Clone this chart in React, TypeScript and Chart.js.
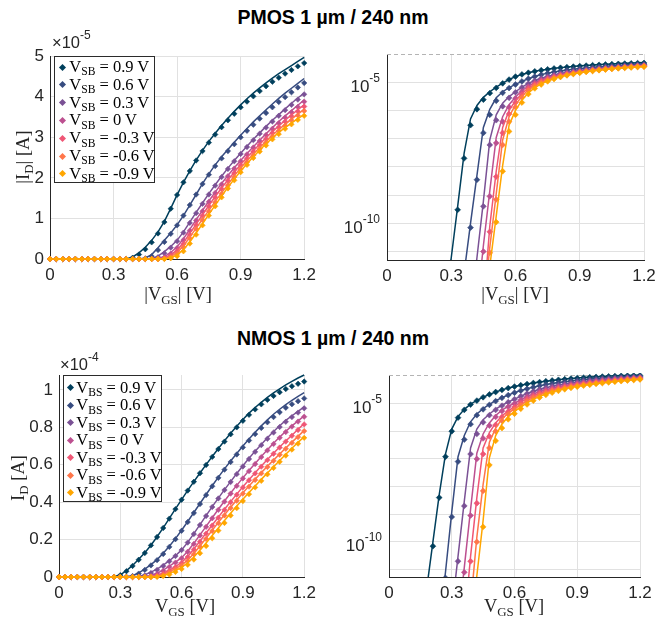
import React, { useEffect, useRef } from 'react';
import { Chart, registerables } from 'chart.js';

Chart.register(...registerables);

// ---------- data ----------
const VGS = [
  0, 0.03, 0.06, 0.09, 0.12, 0.15, 0.18, 0.21, 0.24, 0.27,
  0.3, 0.33, 0.36, 0.39, 0.42, 0.45, 0.48, 0.51, 0.54, 0.57,
  0.6, 0.63, 0.66, 0.69, 0.72, 0.75, 0.78, 0.81, 0.84, 0.87,
  0.9, 0.93, 0.96, 0.99, 1.02, 1.05, 1.08, 1.11, 1.14, 1.17, 1.2,
];

const BIAS_LABELS = ['0.9', '0.6', '0.3', '0', '-0.3', '-0.6', '-0.9'];
const COLORS = ['#003f5c', '#374c80', '#7a5195', '#bc5090', '#ef5675', '#ff764a', '#ffa600'];

const X_TICKS = [0, 0.3, 0.6, 0.9, 1.2];
const X_TICK_LABELS = ['0', '0.3', '0.6', '0.9', '1.2'];
const P_Y_TICKS = [0, 1e-5, 2e-5, 3e-5, 4e-5, 5e-5];
const P_Y_TICK_LABELS = ['0', '1', '2', '3', '4', '5'];
const N_Y_TICKS = [0, 2e-5, 4e-5, 6e-5, 8e-5, 1e-4];
const N_Y_TICK_LABELS = ['0', '0.2', '0.4', '0.6', '0.8', '1'];
const LOG_GRID = [1e-11, 1e-10, 1e-9, 1e-8, 1e-7, 1e-6, 1e-5, 1e-4];
const LOG_LABEL_VALUES = [1e-10, 1e-5];
const LOG_LABEL_EXPS = ['-10', '-5'];

const P_LIN_MAX = 5e-5;
const N_LIN_MAX = 1.08e-4;
const P_LOG_MIN = 5e-12;
const P_LOG_MAX = 1e-4;
const N_LOG_MIN = 5.4e-12;
const N_LOG_MAX = 1.08e-4;

// PMOS |ID| [A] : model lines (FIT) and measurements (MEAS)
const P_FIT_SB09 = [
  1e-13, 1e-13, 1e-13, 1e-13, 1e-13, 1e-13, 1e-13, 1e-13, 1e-13, 2e-13,
  6e-12, 4e-10, 3e-8, 5e-7, 1.5e-6, 2.9e-6, 4.6e-6, 6.7e-6, 9.3e-6, 1.25e-5,
  1.58e-5, 1.89e-5, 2.17e-5, 2.44e-5, 2.68e-5, 2.9e-5, 3.1e-5, 3.29e-5, 3.47e-5, 3.64e-5,
  3.8e-5, 3.95e-5, 4.09e-5, 4.22e-5, 4.34e-5, 4.46e-5, 4.57e-5, 4.67e-5, 4.77e-5, 4.87e-5, 4.97e-5,
];
const P_MEAS_SB09 = [
  1e-13, 1e-13, 1e-13, 1e-13, 1e-13, 1e-13, 1e-13, 1e-13, 1e-13, 1.5e-13,
  4e-12, 3e-10, 2e-8, 3e-7, 1.1e-6, 2.4e-6, 4.1e-6, 6.3e-6, 9.1e-6, 1.24e-5,
  1.58e-5, 1.89e-5, 2.17e-5, 2.43e-5, 2.66e-5, 2.87e-5, 3.07e-5, 3.25e-5, 3.42e-5, 3.58e-5,
  3.74e-5, 3.88e-5, 4.01e-5, 4.14e-5, 4.26e-5, 4.37e-5, 4.47e-5, 4.57e-5, 4.66e-5, 4.75e-5, 4.83e-5,
];
const P_FIT_SB06 = [
  1e-13, 1e-13, 1e-13, 1e-13, 1e-13, 1e-13, 1e-13, 1e-13, 1e-13, 1e-13,
  1e-13, 1e-13, 1.7e-12, 1e-10, 5e-9, 2.5e-7, 1.1e-6, 2.8e-6, 4.6e-6, 6.4e-6,
  8.4e-6, 1.07e-5, 1.33e-5, 1.59e-5, 1.86e-5, 2.1e-5, 2.32e-5, 2.52e-5, 2.7e-5, 2.88e-5,
  3.05e-5, 3.22e-5, 3.38e-5, 3.53e-5, 3.68e-5, 3.82e-5, 3.96e-5, 4.09e-5, 4.21e-5, 4.33e-5, 4.45e-5,
];
const P_MEAS_SB06 = [
  1e-13, 1e-13, 1e-13, 1e-13, 1e-13, 1e-13, 1e-13, 1e-13, 1e-13, 1e-13,
  1e-13, 1e-13, 1.2e-12, 7e-11, 3.5e-9, 1.6e-7, 7e-7, 2.2e-6, 4.2e-6, 6.2e-6,
  8.3e-6, 1.07e-5, 1.33e-5, 1.59e-5, 1.85e-5, 2.08e-5, 2.29e-5, 2.48e-5, 2.66e-5, 2.83e-5,
  3.0e-5, 3.16e-5, 3.31e-5, 3.46e-5, 3.6e-5, 3.74e-5, 3.87e-5, 3.99e-5, 4.11e-5, 4.23e-5, 4.34e-5,
];
const P_FIT_SB03 = [
  1e-13, 1e-13, 1e-13, 1e-13, 1e-13, 1e-13, 1e-13, 1e-13, 1e-13, 1e-13,
  1e-13, 1e-13, 1e-13, 1e-13, 6e-12, 6e-10, 9e-8, 7e-7, 1.8e-6, 3.1e-6,
  4.6e-6, 6.7e-6, 9.1e-6, 1.15e-5, 1.38e-5, 1.61e-5, 1.83e-5, 2.04e-5, 2.24e-5, 2.43e-5,
  2.61e-5, 2.78e-5, 2.95e-5, 3.11e-5, 3.27e-5, 3.42e-5, 3.56e-5, 3.7e-5, 3.84e-5, 3.97e-5, 4.09e-5,
];
const P_MEAS_SB03 = [
  1e-13, 1e-13, 1e-13, 1e-13, 1e-13, 1e-13, 1e-13, 1e-13, 1e-13, 1e-13,
  1e-13, 1e-13, 1e-13, 1e-13, 4e-12, 4e-10, 6e-8, 4.5e-7, 1.4e-6, 2.8e-6,
  4.4e-6, 6.5e-6, 8.9e-6, 1.13e-5, 1.36e-5, 1.59e-5, 1.81e-5, 2.02e-5, 2.22e-5, 2.41e-5,
  2.59e-5, 2.76e-5, 2.93e-5, 3.09e-5, 3.24e-5, 3.39e-5, 3.53e-5, 3.67e-5, 3.8e-5, 3.93e-5, 4.06e-5,
];
const P_FIT_SB0 = [
  1e-13, 1e-13, 1e-13, 1e-13, 1e-13, 1e-13, 1e-13, 1e-13, 1e-13, 1e-13,
  1e-13, 1e-13, 1e-13, 1e-13, 1e-13, 1.6e-11, 1.4e-9, 1.1e-7, 6e-7, 1.6e-6,
  3.0e-6, 5.0e-6, 7.3e-6, 9.7e-6, 1.2e-5, 1.43e-5, 1.65e-5, 1.86e-5, 2.06e-5, 2.25e-5,
  2.43e-5, 2.6e-5, 2.77e-5, 2.93e-5, 3.09e-5, 3.24e-5, 3.39e-5, 3.53e-5, 3.66e-5, 3.79e-5, 3.92e-5,
];
const P_MEAS_SB0 = [
  1e-13, 1e-13, 1e-13, 1e-13, 1e-13, 1e-13, 1e-13, 1e-13, 1e-13, 1e-13,
  1e-13, 1e-13, 1e-13, 1e-13, 1e-13, 1e-11, 9e-10, 7e-8, 4e-7, 1.3e-6,
  2.7e-6, 4.7e-6, 7.0e-6, 9.5e-6, 1.18e-5, 1.41e-5, 1.63e-5, 1.84e-5, 2.04e-5, 2.23e-5,
  2.41e-5, 2.58e-5, 2.75e-5, 2.91e-5, 3.06e-5, 3.21e-5, 3.35e-5, 3.49e-5, 3.62e-5, 3.75e-5, 3.88e-5,
];
const P_FIT_SBM03 = [
  1e-13, 1e-13, 1e-13, 1e-13, 1e-13, 1e-13, 1e-13, 1e-13, 1e-13, 1e-13,
  1e-13, 1e-13, 1e-13, 1e-13, 1e-13, 1e-13, 8e-11, 7e-9, 2.5e-7, 1.0e-6,
  2.2e-6, 4.0e-6, 6.3e-6, 8.6e-6, 1.09e-5, 1.32e-5, 1.54e-5, 1.75e-5, 1.95e-5, 2.14e-5,
  2.33e-5, 2.5e-5, 2.67e-5, 2.83e-5, 2.99e-5, 3.14e-5, 3.28e-5, 3.42e-5, 3.55e-5, 3.68e-5, 3.8e-5,
];
const P_MEAS_SBM03 = [
  1e-13, 1e-13, 1e-13, 1e-13, 1e-13, 1e-13, 1e-13, 1e-13, 1e-13, 1e-13,
  1e-13, 1e-13, 1e-13, 1e-13, 1e-13, 1e-13, 5e-11, 4.5e-9, 1.6e-7, 7.5e-7,
  1.9e-6, 3.7e-6, 6.0e-6, 8.4e-6, 1.07e-5, 1.3e-5, 1.52e-5, 1.73e-5, 1.93e-5, 2.12e-5,
  2.31e-5, 2.48e-5, 2.65e-5, 2.81e-5, 2.96e-5, 3.11e-5, 3.25e-5, 3.39e-5, 3.52e-5, 3.64e-5, 3.76e-5,
];
const P_FIT_SBM06 = [
  1e-13, 1e-13, 1e-13, 1e-13, 1e-13, 1e-13, 1e-13, 1e-13, 1e-13, 1e-13,
  1e-13, 1e-13, 1e-13, 1e-13, 1e-13, 1e-13, 1.4e-11, 1.1e-9, 9e-8, 6e-7,
  1.6e-6, 3.2e-6, 5.4e-6, 7.6e-6, 9.8e-6, 1.2e-5, 1.42e-5, 1.63e-5, 1.84e-5, 2.05e-5,
  2.25e-5, 2.42e-5, 2.59e-5, 2.75e-5, 2.9e-5, 3.05e-5, 3.19e-5, 3.32e-5, 3.45e-5, 3.57e-5, 3.69e-5,
];
const P_MEAS_SBM06 = [
  1e-13, 1e-13, 1e-13, 1e-13, 1e-13, 1e-13, 1e-13, 1e-13, 1e-13, 1e-13,
  1e-13, 1e-13, 1e-13, 1e-13, 1e-13, 1e-13, 9e-12, 7e-10, 6e-8, 4e-7,
  1.3e-6, 2.9e-6, 5.1e-6, 7.4e-6, 9.6e-6, 1.18e-5, 1.4e-5, 1.61e-5, 1.82e-5, 2.02e-5,
  2.22e-5, 2.39e-5, 2.56e-5, 2.72e-5, 2.87e-5, 3.02e-5, 3.16e-5, 3.29e-5, 3.42e-5, 3.54e-5, 3.65e-5,
];
const P_FIT_SBM09 = [
  1e-13, 1e-13, 1e-13, 1e-13, 1e-13, 1e-13, 1e-13, 1e-13, 1e-13, 1e-13,
  1e-13, 1e-13, 1e-13, 1e-13, 1e-13, 1e-13, 3e-12, 1.8e-10, 1.1e-8, 3e-7,
  1.0e-6, 2.3e-6, 4.2e-6, 6.4e-6, 8.7e-6, 1.1e-5, 1.33e-5, 1.55e-5, 1.77e-5, 1.97e-5,
  2.17e-5, 2.35e-5, 2.52e-5, 2.68e-5, 2.84e-5, 2.98e-5, 3.12e-5, 3.24e-5, 3.35e-5, 3.46e-5, 3.56e-5,
];
const P_MEAS_SBM09 = [
  1e-13, 1e-13, 1e-13, 1e-13, 1e-13, 1e-13, 1e-13, 1e-13, 1e-13, 1e-13,
  1e-13, 1e-13, 1e-13, 1e-13, 1e-13, 1e-13, 2e-12, 1.1e-10, 7e-9, 1.8e-7,
  7e-7, 1.9e-6, 3.8e-6, 6.0e-6, 8.3e-6, 1.07e-5, 1.3e-5, 1.52e-5, 1.74e-5, 1.94e-5,
  2.14e-5, 2.32e-5, 2.49e-5, 2.65e-5, 2.8e-5, 2.95e-5, 3.08e-5, 3.21e-5, 3.32e-5, 3.43e-5, 3.53e-5,
];

// NMOS ID [A]
const N_FIT_BS09 = [
  1e-13, 1e-13, 1e-13, 1e-13, 1e-13, 1e-13, 2e-12, 1e-10, 5e-9, 1.5e-7,
  1.2e-6, 3.4e-6, 6.2e-6, 9.5e-6, 1.3e-5, 1.7e-5, 2.15e-5, 2.63e-5, 3.13e-5, 3.64e-5,
  4.14e-5, 4.63e-5, 5.1e-5, 5.56e-5, 6.01e-5, 6.44e-5, 6.87e-5, 7.28e-5, 7.68e-5, 8.06e-5,
  8.42e-5, 8.76e-5, 9.06e-5, 9.34e-5, 9.6e-5, 9.84e-5, 1.006e-4, 1.027e-4, 1.046e-4, 1.064e-4, 1.08e-4,
];
const N_MEAS_BS09 = [
  1e-13, 1e-13, 1e-13, 1e-13, 1e-13, 1e-13, 1.5e-12, 7e-11, 4e-9, 1.2e-7,
  1.0e-6, 3.1e-6, 5.9e-6, 9.2e-6, 1.28e-5, 1.69e-5, 2.14e-5, 2.62e-5, 3.12e-5, 3.63e-5,
  4.13e-5, 4.62e-5, 5.09e-5, 5.55e-5, 5.99e-5, 6.42e-5, 6.84e-5, 7.24e-5, 7.63e-5, 8.0e-5,
  8.35e-5, 8.67e-5, 8.96e-5, 9.23e-5, 9.47e-5, 9.68e-5, 9.88e-5, 1.005e-4, 1.02e-4, 1.033e-4, 1.045e-4,
];
const N_FIT_BS06 = [
  1e-13, 1e-13, 1e-13, 1e-13, 1e-13, 1e-13, 1e-13, 1e-13, 1e-13, 8e-12,
  1.2e-9, 1.2e-7, 7e-7, 2.2e-6, 4.2e-6, 6.6e-6, 9.3e-6, 1.27e-5, 1.64e-5, 2.05e-5,
  2.5e-5, 2.97e-5, 3.45e-5, 3.93e-5, 4.41e-5, 4.88e-5, 5.34e-5, 5.78e-5, 6.2e-5, 6.6e-5,
  7.0e-5, 7.38e-5, 7.74e-5, 8.08e-5, 8.4e-5, 8.7e-5, 8.97e-5, 9.22e-5, 9.45e-5, 9.66e-5, 9.86e-5,
];
const N_MEAS_BS06 = [
  1e-13, 1e-13, 1e-13, 1e-13, 1e-13, 1e-13, 1e-13, 1e-13, 1e-13, 5e-12,
  8e-10, 8e-8, 5e-7, 1.8e-6, 3.8e-6, 6.2e-6, 9.0e-6, 1.23e-5, 1.61e-5, 2.02e-5,
  2.47e-5, 2.94e-5, 3.42e-5, 3.9e-5, 4.38e-5, 4.85e-5, 5.3e-5, 5.74e-5, 6.15e-5, 6.55e-5,
  6.93e-5, 7.3e-5, 7.64e-5, 7.97e-5, 8.27e-5, 8.55e-5, 8.81e-5, 9.05e-5, 9.24e-5, 9.4e-5, 9.55e-5,
];
const N_FIT_BS03 = [
  1e-13, 1e-13, 1e-13, 1e-13, 1e-13, 1e-13, 1e-13, 1e-13, 1e-13, 1e-13,
  3e-13, 3e-11, 3e-9, 2.5e-7, 1.2e-6, 2.6e-6, 4.2e-6, 6.3e-6, 8.7e-6, 1.14e-5,
  1.45e-5, 1.85e-5, 2.32e-5, 2.8e-5, 3.28e-5, 3.76e-5, 4.22e-5, 4.67e-5, 5.1e-5, 5.53e-5,
  5.95e-5, 6.35e-5, 6.73e-5, 7.09e-5, 7.44e-5, 7.78e-5, 8.09e-5, 8.37e-5, 8.62e-5, 8.86e-5, 9.09e-5,
];
const N_MEAS_BS03 = [
  1e-13, 1e-13, 1e-13, 1e-13, 1e-13, 1e-13, 1e-13, 1e-13, 1e-13, 1e-13,
  2e-13, 2e-11, 2e-9, 1.5e-7, 8e-7, 2.1e-6, 3.8e-6, 5.9e-6, 8.4e-6, 1.12e-5,
  1.44e-5, 1.84e-5, 2.3e-5, 2.78e-5, 3.26e-5, 3.74e-5, 4.2e-5, 4.65e-5, 5.08e-5, 5.5e-5,
  5.91e-5, 6.31e-5, 6.69e-5, 7.05e-5, 7.39e-5, 7.72e-5, 8.02e-5, 8.3e-5, 8.55e-5, 8.79e-5, 9.02e-5,
];
const N_FIT_BS0 = [
  1e-13, 1e-13, 1e-13, 1e-13, 1e-13, 1e-13, 1e-13, 1e-13, 1e-13, 1e-13,
  1e-13, 1e-13, 1.2e-11, 1.5e-9, 1.6e-7, 8e-7, 2.0e-6, 3.7e-6, 5.8e-6, 8.0e-6,
  1.03e-5, 1.38e-5, 1.8e-5, 2.25e-5, 2.71e-5, 3.17e-5, 3.62e-5, 4.06e-5, 4.49e-5, 4.9e-5,
  5.3e-5, 5.69e-5, 6.07e-5, 6.44e-5, 6.8e-5, 7.15e-5, 7.48e-5, 7.79e-5, 8.08e-5, 8.35e-5, 8.61e-5,
];
const N_MEAS_BS0 = [
  1e-13, 1e-13, 1e-13, 1e-13, 1e-13, 1e-13, 1e-13, 1e-13, 1e-13, 1e-13,
  1e-13, 1e-13, 8e-12, 9e-10, 1e-7, 5.5e-7, 1.6e-6, 3.3e-6, 5.4e-6, 7.7e-6,
  1.0e-5, 1.35e-5, 1.77e-5, 2.22e-5, 2.68e-5, 3.14e-5, 3.59e-5, 4.03e-5, 4.46e-5, 4.87e-5,
  5.27e-5, 5.66e-5, 6.04e-5, 6.41e-5, 6.77e-5, 7.11e-5, 7.44e-5, 7.75e-5, 8.04e-5, 8.31e-5, 8.57e-5,
];
const N_FIT_BSM03 = [
  1e-13, 1e-13, 1e-13, 1e-13, 1e-13, 1e-13, 1e-13, 1e-13, 1e-13, 1e-13,
  1e-13, 1e-13, 1e-13, 3e-11, 4e-9, 2.5e-7, 9e-7, 2.0e-6, 3.6e-6, 5.5e-6,
  7.8e-6, 1.1e-5, 1.5e-5, 1.92e-5, 2.35e-5, 2.78e-5, 3.2e-5, 3.62e-5, 4.03e-5, 4.43e-5,
  4.82e-5, 5.2e-5, 5.57e-5, 5.93e-5, 6.28e-5, 6.62e-5, 6.95e-5, 7.27e-5, 7.58e-5, 7.9e-5, 8.2e-5,
];
const N_MEAS_BSM03 = [
  1e-13, 1e-13, 1e-13, 1e-13, 1e-13, 1e-13, 1e-13, 1e-13, 1e-13, 1e-13,
  1e-13, 1e-13, 1e-13, 2e-11, 2.5e-9, 1.5e-7, 6.5e-7, 1.7e-6, 3.3e-6, 5.2e-6,
  7.5e-6, 1.07e-5, 1.47e-5, 1.89e-5, 2.32e-5, 2.75e-5, 3.17e-5, 3.59e-5, 4.0e-5, 4.4e-5,
  4.79e-5, 5.17e-5, 5.54e-5, 5.9e-5, 6.25e-5, 6.59e-5, 6.92e-5, 7.24e-5, 7.55e-5, 7.86e-5, 8.16e-5,
];
const N_FIT_BSM06 = [
  1e-13, 1e-13, 1e-13, 1e-13, 1e-13, 1e-13, 1e-13, 1e-13, 1e-13, 1e-13,
  1e-13, 1e-13, 1e-13, 5e-13, 1.5e-10, 1.2e-8, 4e-7, 1.3e-6, 2.8e-6, 4.5e-6,
  6.4e-6, 9e-6, 1.26e-5, 1.66e-5, 2.08e-5, 2.5e-5, 2.92e-5, 3.33e-5, 3.73e-5, 4.12e-5,
  4.5e-5, 4.87e-5, 5.23e-5, 5.58e-5, 5.92e-5, 6.25e-5, 6.58e-5, 6.9e-5, 7.21e-5, 7.52e-5, 7.84e-5,
];
const N_MEAS_BSM06 = [
  1e-13, 1e-13, 1e-13, 1e-13, 1e-13, 1e-13, 1e-13, 1e-13, 1e-13, 1e-13,
  1e-13, 1e-13, 1e-13, 3e-13, 1e-10, 7e-9, 2.5e-7, 1e-6, 2.4e-6, 4.1e-6,
  6.0e-6, 8.6e-6, 1.22e-5, 1.62e-5, 2.04e-5, 2.46e-5, 2.88e-5, 3.29e-5, 3.69e-5, 4.08e-5,
  4.46e-5, 4.83e-5, 5.19e-5, 5.54e-5, 5.88e-5, 6.21e-5, 6.54e-5, 6.86e-5, 7.17e-5, 7.48e-5, 7.8e-5,
];
const N_FIT_BSM09 = [
  1e-13, 1e-13, 1e-13, 1e-13, 1e-13, 1e-13, 1e-13, 1e-13, 1e-13, 1e-13,
  1e-13, 1e-13, 1e-13, 1e-13, 6e-12, 6e-10, 1.1e-7, 7e-7, 1.8e-6, 3.4e-6,
  5.2e-6, 7.6e-6, 1.07e-5, 1.43e-5, 1.82e-5, 2.22e-5, 2.62e-5, 3.02e-5, 3.41e-5, 3.79e-5,
  4.16e-5, 4.52e-5, 4.87e-5, 5.22e-5, 5.56e-5, 5.9e-5, 6.23e-5, 6.56e-5, 6.88e-5, 7.2e-5, 7.5e-5,
];
const N_MEAS_BSM09 = [
  1e-13, 1e-13, 1e-13, 1e-13, 1e-13, 1e-13, 1e-13, 1e-13, 1e-13, 1e-13,
  1e-13, 1e-13, 1e-13, 1e-13, 4e-12, 3.5e-10, 6e-8, 4.5e-7, 1.3e-6, 2.7e-6,
  4.3e-6, 6.5e-6, 9.3e-6, 1.27e-5, 1.66e-5, 2.07e-5, 2.48e-5, 2.89e-5, 3.29e-5, 3.68e-5,
  4.06e-5, 4.43e-5, 4.79e-5, 5.14e-5, 5.49e-5, 5.83e-5, 6.16e-5, 6.49e-5, 6.81e-5, 7.13e-5, 7.44e-5,
];

const P_FITS = [P_FIT_SB09, P_FIT_SB06, P_FIT_SB03, P_FIT_SB0, P_FIT_SBM03, P_FIT_SBM06, P_FIT_SBM09];
const P_MEAS = [P_MEAS_SB09, P_MEAS_SB06, P_MEAS_SB03, P_MEAS_SB0, P_MEAS_SBM03, P_MEAS_SBM06, P_MEAS_SBM09];
const N_FITS = [N_FIT_BS09, N_FIT_BS06, N_FIT_BS03, N_FIT_BS0, N_FIT_BSM03, N_FIT_BSM06, N_FIT_BSM09];
const N_MEAS = [N_MEAS_BS09, N_MEAS_BS06, N_MEAS_BS03, N_MEAS_BS0, N_MEAS_BSM03, N_MEAS_BSM06, N_MEAS_BSM09];

// ---------- styling ----------
const SANS = '"Liberation Sans", Arial, Helvetica, sans-serif';
const SERIF = '"Liberation Serif", "Times New Roman", Times, serif';
const TICK_COLOR = '#262626';
const GRID_COLOR = '#e1e1e1';
const AXIS_COLOR = '#262626';
const TICK_SIZE = 17;

function buildDatasets(fits: number[][], meas: number[][], log: boolean) {
  const ds: any[] = [];
  const clip = log ? { left: 6, right: 6, top: 2, bottom: 0 } : { left: 8, right: 8, top: 8, bottom: 8 };
  fits.forEach((arr, k) => {
    ds.push({
      data: VGS.map((x, i) => ({ x, y: arr[i] })),
      showLine: true,
      borderColor: COLORS[k],
      backgroundColor: COLORS[k],
      borderWidth: 1.5,
      pointRadius: 0,
      pointHoverRadius: 0,
      order: (6 - k) * 2 + 1,
      clip,
    });
    ds.push({
      data: VGS.map((x, i) => ({ x, y: meas[k][i] })),
      showLine: false,
      pointStyle: 'rectRot',
      pointRadius: log ? 2.9 : 2.7,
      pointBorderWidth: 0.6,
      pointBackgroundColor: COLORS[k],
      pointBorderColor: COLORS[k],
      order: (6 - k) * 2,
      clip,
    });
  });
  return ds;
}

const logLabelsPlugin = {
  id: 'logLabels',
  afterDraw(chart: any) {
    const { ctx, chartArea } = chart;
    const ys = chart.scales.y;
    ctx.save();
    ctx.fillStyle = TICK_COLOR;
    ctx.textBaseline = 'alphabetic';
    LOG_LABEL_VALUES.forEach((v, i) => {
      const y = ys.getPixelForValue(v);
      const exp = LOG_LABEL_EXPS[i];
      ctx.font = `12px ${SANS}`;
      const ws = ctx.measureText(exp).width;
      const xr = chartArea.left - 7;
      ctx.textAlign = 'left';
      ctx.fillText(exp, xr - ws, y - 0.5);
      ctx.font = `${TICK_SIZE}px ${SANS}`;
      ctx.textAlign = 'right';
      ctx.fillText('10', xr - ws, y + 9.5);
    });
    ctx.restore();
  },
};

const topDashPlugin = {
  id: 'topDash',
  beforeDatasetsDraw(chart: any) {
    const { ctx, chartArea } = chart;
    ctx.save();
    ctx.strokeStyle = '#b4b4b4';
    ctx.lineWidth = 1;
    ctx.setLineDash([4, 3]);
    ctx.beginPath();
    ctx.moveTo(chartArea.left, chartArea.top + 0.5);
    ctx.lineTo(chartArea.right, chartArea.top + 0.5);
    ctx.stroke();
    ctx.restore();
  },
};

type Geom = { yWidth: number; xHeight: number; padTop: number; padRight: number };

function makeConfig(dev: 'P' | 'N', log: boolean, g: Geom): any {
  const fits = dev === 'P' ? P_FITS : N_FITS;
  const meas = dev === 'P' ? P_MEAS : N_MEAS;
  const tickFont = { family: SANS, size: TICK_SIZE };
  const x = {
    type: 'linear',
    min: 0,
    max: 1.2,
    afterBuildTicks: (s: any) => {
      s.ticks = X_TICKS.map((v) => ({ value: v }));
    },
    afterFit: (s: any) => {
      s.height = g.xHeight;
    },
    ticks: {
      autoSkip: false,
      maxRotation: 0,
      padding: 6,
      color: TICK_COLOR,
      font: tickFont,
      callback: (_v: any, i: number) => X_TICK_LABELS[i],
    },
    grid: { color: GRID_COLOR, drawTicks: false, lineWidth: 1 },
    border: { color: AXIS_COLOR, width: 1 },
  };
  let y: any;
  if (!log) {
    const yt = dev === 'P' ? P_Y_TICKS : N_Y_TICKS;
    const yl = dev === 'P' ? P_Y_TICK_LABELS : N_Y_TICK_LABELS;
    y = {
      type: 'linear',
      min: 0,
      max: dev === 'P' ? P_LIN_MAX : N_LIN_MAX,
      afterBuildTicks: (s: any) => {
        s.ticks = yt.map((v) => ({ value: v }));
      },
      afterFit: (s: any) => {
        s.width = g.yWidth;
      },
      ticks: {
        autoSkip: false,
        padding: 6,
        color: TICK_COLOR,
        font: tickFont,
        callback: (_v: any, i: number) => yl[i],
      },
      grid: { color: GRID_COLOR, drawTicks: false, lineWidth: 1 },
      border: { color: AXIS_COLOR, width: 1 },
    };
  } else {
    y = {
      type: 'logarithmic',
      min: dev === 'P' ? P_LOG_MIN : N_LOG_MIN,
      max: dev === 'P' ? P_LOG_MAX : N_LOG_MAX,
      afterBuildTicks: (s: any) => {
        s.ticks = LOG_GRID.map((v) => ({ value: v }));
      },
      afterFit: (s: any) => {
        s.width = g.yWidth;
      },
      ticks: { autoSkip: false, color: TICK_COLOR, font: tickFont, callback: () => '' },
      grid: {
        color: (c: any) => (c.tick && c.tick.value >= 0.999e-4 ? 'rgba(0,0,0,0)' : GRID_COLOR),
        drawTicks: false,
        lineWidth: 1,
      },
      border: { color: AXIS_COLOR, width: 1 },
    };
  }
  return {
    type: 'scatter',
    data: { datasets: buildDatasets(fits, meas, log) },
    options: {
      animation: false,
      responsive: false,
      devicePixelRatio: 1,
      events: [],
      layout: { padding: { left: 0, right: g.padRight, top: g.padTop, bottom: 0 } },
      plugins: { legend: { display: false }, tooltip: { enabled: false }, title: { display: false } },
      scales: { x, y },
    },
    plugins: log ? [topDashPlugin, logLabelsPlugin] : [],
  };
}

// ---------- HTML text helpers ----------
const subStyle: React.CSSProperties = { fontSize: '0.7em', position: 'relative', top: '0.3em' };

function Legend(props: { left: number; top: number; width: number; height: number; first: number; step: number; mx: number; tx: number; sub: string }) {
  const { left, top, width, height, first, step, mx, tx, sub } = props;
  return (
    <div
      style={{
        position: 'absolute',
        left,
        top,
        width,
        height,
        boxSizing: 'border-box',
        border: '1px solid #2b2b2b',
        background: '#fff',
        zIndex: 2,
      }}
    >
      {BIAS_LABELS.map((lab, i) => {
        const cy = first + i * step;
        return (
          <React.Fragment key={lab}>
            <span
              style={{
                position: 'absolute',
                left: mx - 2.5,
                top: cy - 2.5,
                width: 5,
                height: 5,
                background: COLORS[i],
                transform: 'rotate(45deg)',
              }}
            />
            <span
              style={{
                position: 'absolute',
                left: tx,
                top: cy - 10,
                height: 20,
                lineHeight: '20px',
                whiteSpace: 'nowrap',
                font: `16.5px ${SERIF}`,
                color: '#000',
              }}
            >
              V<span style={subStyle}>{sub}</span> = {lab} V
            </span>
          </React.Fragment>
        );
      })}
    </div>
  );
}

function AxisTitle(props: { cx: number; cy: number; rotate?: boolean; children: React.ReactNode }) {
  const { cx, cy, rotate, children } = props;
  return (
    <div
      style={{
        position: 'absolute',
        left: cx - 70,
        top: cy - 11,
        width: 140,
        height: 22,
        lineHeight: '22px',
        textAlign: 'center',
        whiteSpace: 'nowrap',
        font: `18.5px ${SERIF}`,
        color: '#262626',
        transform: rotate ? 'rotate(-90deg)' : undefined,
      }}
    >
      {children}
    </div>
  );
}

function Exponent(props: { left: number; top: number; exp: string }) {
  return (
    <div
      style={{
        position: 'absolute',
        left: props.left,
        top: props.top,
        font: `16.5px ${SANS}`,
        lineHeight: '16px',
        color: '#262626',
        whiteSpace: 'nowrap',
      }}
    >
      ×10<span style={{ fontSize: '12px', position: 'relative', top: '-0.75em' }}>{props.exp}</span>
    </div>
  );
}

function Title(props: { top: number; text: string }) {
  return (
    <div
      style={{
        position: 'absolute',
        left: 0,
        width: 666,
        top: props.top,
        textAlign: 'center',
        font: `bold 19.5px ${SANS}`,
        lineHeight: '24px',
        color: '#000',
      }}
    >
      {props.text}
    </div>
  );
}

const PLOTS = [
  { dev: 'P' as const, log: false, left: 0, top: 40, w: 322, h: 245, g: { yWidth: 50, xHeight: 26, padTop: 15, padRight: 15 } },
  { dev: 'P' as const, log: true, left: 322, top: 40, w: 347, h: 245, g: { yWidth: 65, xHeight: 25, padTop: 14, padRight: 25 } },
  { dev: 'N' as const, log: false, left: 0, top: 355, w: 322, h: 269, g: { yWidth: 59, xHeight: 47, padTop: 20, padRight: 12 } },
  { dev: 'N' as const, log: true, left: 322, top: 355, w: 347, h: 269, g: { yWidth: 67, xHeight: 47, padTop: 20, padRight: 29 } },
];

export default function App() {
  const refs = [useRef<HTMLCanvasElement>(null), useRef<HTMLCanvasElement>(null), useRef<HTMLCanvasElement>(null), useRef<HTMLCanvasElement>(null)];

  useEffect(() => {
    const charts = PLOTS.map((p, i) => new Chart(refs[i].current as HTMLCanvasElement, makeConfig(p.dev, p.log, p.g)));
    return () => charts.forEach((c) => c.destroy());
  }, []);

  return (
    <div style={{ position: 'absolute', left: 0, top: 0, width: 669, height: 624, background: '#fff', overflow: 'hidden' }}>
      <Title top={5} text="PMOS 1 µm / 240 nm" />
      <Title top={326} text="NMOS 1 µm / 240 nm" />
      {PLOTS.map((p, i) => (
        <canvas
          key={i}
          ref={refs[i]}
          width={p.w}
          height={p.h}
          style={{ position: 'absolute', left: p.left, top: p.top, width: p.w, height: p.h }}
        />
      ))}
      <Exponent left={52} top={34} exp="-5" />
      <Exponent left={60} top={356} exp="-4" />
      <Legend left={54} top={56} width={101} height={127} first={10} step={17.8} mx={7.7} tx={14.3} sub="SB" />
      <Legend left={63} top={375} width={99} height={127} first={11.7} step={17.5} mx={6.3} tx={12.3} sub="BS" />
      <AxisTitle cx={24} cy={157} rotate>
        |I<span style={subStyle}>D</span>| [A]
      </AxisTitle>
      <AxisTitle cx={178} cy={295}>
        |V<span style={subStyle}>GS</span>| [V]
      </AxisTitle>
      <AxisTitle cx={515} cy={295}>
        |V<span style={subStyle}>GS</span>| [V]
      </AxisTitle>
      <AxisTitle cx={19} cy={478} rotate>
        I<span style={subStyle}>D</span> [A]
      </AxisTitle>
      <AxisTitle cx={185} cy={607}>
        V<span style={subStyle}>GS</span> [V]
      </AxisTitle>
      <AxisTitle cx={514} cy={607}>
        V<span style={subStyle}>GS</span> [V]
      </AxisTitle>
    </div>
  );
}
